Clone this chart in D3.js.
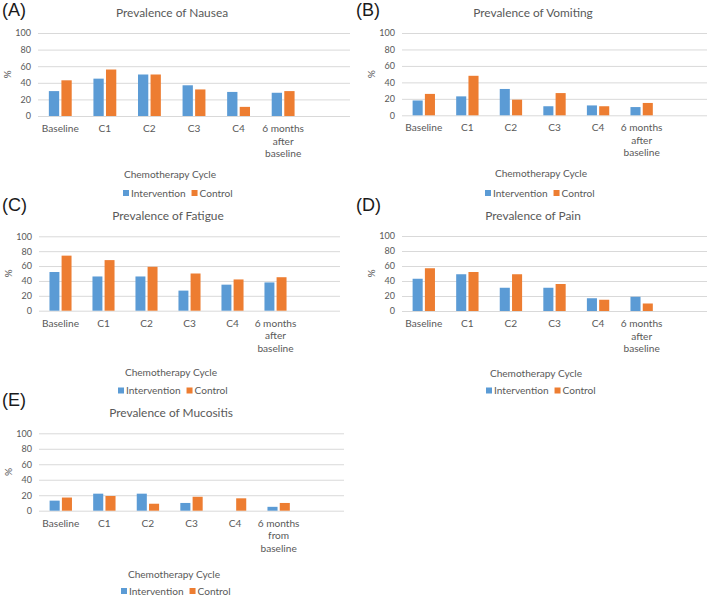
<!DOCTYPE html>
<html>
<head>
<meta charset="utf-8">
<script src="https://cdn.jsdelivr.net/npm/d3@7"></script>
<style>
  body { margin: 0; background: #fff; }
  text { font-family: Lato, "Noto Sans", sans-serif; fill: #595959; }
</style>
</head>
<body>
<div id="container"></div>
<script>
// categories (7th slot is empty in the original chart)
var categories = ['Baseline', 'C1', 'C2', 'C3', 'C4', '6m', ''];
var catLabels = ['Baseline', 'C1', 'C2', 'C3', 'C4', '6 months\nafter\nbaseline', ''];
var catLabelsE = ['Baseline', 'C1', 'C2', 'C3', 'C4', '6 months\nfrom\nbaseline', ''];
var series = ['Intervention', 'Control'];
var yTicks = [0, 20, 40, 60, 80, 100];

var nauseaInt = [30, 45, 50, 37, 29, 28];
var nauseaCtrl = [43, 56, 50, 32, 11, 30];
var vomitInt = [18, 23, 32, 11, 12, 10];
var vomitCtrl = [26, 48, 19, 27, 11, 15];
var fatigueInt = [52, 46, 46, 27, 35, 38];
var fatigueCtrl = [74, 68, 59, 50, 42, 45];
var painInt = [43, 49, 31, 31, 17, 19];
var painCtrl = [57, 52, 49, 36, 15, 10];
var mucoInt = [13, 22, 22, 10, 0, 5];
var mucoCtrl = [17, 19, 9, 18, 16, 10];

var colors = {Intervention: '#5B9BD5', Control: '#ED7D31'};

var svg = d3.select('#container').append('svg')
    .attr('width', 709)
    .attr('height', 596);

// pick font sizes from the text widths in the picture (Calibri is narrower, so nudge up a bit)
function fitSize(str, target) {
  var t = svg.append('text').style('font-size', '10px').text(str);
  var w = t.node().getComputedTextLength();
  t.remove();
  return 10 * target / w;
}
var titleSize = fitSize('Prevalence of Nausea', 105) * 1.07;
var smallSize = fitSize('Chemotherapy Cycle', 84) * 1.1;
var tickSize = fitSize('100', 15) * 1.05;

// panel layouts: plot box + text anchors
var panels = [
  {tag: '(A)', title: 'Prevalence of Nausea', labels: catLabels, a: nauseaInt, b: nauseaCtrl,
   ox: 0, oy: 0, left: 38, right: 350, top: 33, bottom: 116, titleY: 17, titleX: 172, axisY: 178, axisX: 170, legY: 193, legX: 123},
  {tag: '(B)', title: 'Prevalence of Vomiting', labels: catLabels, a: vomitInt, b: vomitCtrl,
   ox: 354, oy: 0, left: 48, right: 353, top: 33, bottom: 115.3, titleY: 17, titleX: 179, axisY: 177, axisX: 187, legY: 193, legX: 131},
  {tag: '(C)', title: 'Prevalence of Fatigue', labels: catLabels, a: fatigueInt, b: fatigueCtrl,
   ox: 0, oy: 195, left: 39, right: 340, top: 41.3, bottom: 115.7, titleY: 25, titleX: 168, axisY: 181, axisX: 171, legY: 195.5, legX: 118},
  {tag: '(D)', title: 'Prevalence of Pain', labels: catLabels, a: painInt, b: painCtrl,
   ox: 354, oy: 195, left: 48, right: 353, top: 41, bottom: 116, titleY: 25, titleX: 179, axisY: 182, axisX: 182, legY: 195.5, legX: 132},
  {tag: '(E)', title: 'Prevalence of Mucositis', labels: catLabelsE, a: mucoInt, b: mucoCtrl,
   ox: 0, oy: 390, left: 39, right: 344, top: 43.3, bottom: 120.7, titleY: 27, titleX: 171, axisY: 188, axisX: 174, legY: 201, legX: 121}
];

panels.forEach(function(p) {
  var g = svg.append('g').attr('transform', 'translate(' + p.ox + ',' + p.oy + ')');

  var x = d3.scaleBand().domain(categories).range([p.left, p.right]).padding(0);
  var bw = x.bandwidth();
  var xSub = d3.scaleBand().domain(series)
      .range([-0.2565 * bw, 0.2565 * bw]).paddingInner(0.18);
  var y = d3.scaleLinear().domain([0, 100]).range([p.bottom, p.top]);

  // panel tag
  g.append('text').attr('x', 2).attr('y', 16)
      .style('font-family', '"Liberation Sans", Arial, sans-serif')
      .style('font-size', '18px').style('fill', '#1a1a1a')
      .text(p.tag);

  // title
  g.append('text').attr('x', p.titleX).attr('y', p.titleY)
      .attr('text-anchor', 'middle').style('font-size', titleSize + 'px')
      .text(p.title);

  // gridlines + y labels
  var yAxis = d3.axisLeft(y).tickValues(yTicks).tickSize(-(p.right - p.left)).tickPadding(7);
  var ya = g.append('g').attr('transform', 'translate(' + p.left + ',0)').call(yAxis);
  ya.select('.domain').remove();
  ya.selectAll('line').attr('stroke', '#D9D9D9');
  ya.selectAll('text').style('font-size', tickSize + 'px').style('fill', '#595959')
      .style('font-family', 'Lato, sans-serif');

  // % label
  g.append('text')
      .attr('transform', 'translate(' + (p.left - 27) + ',' + ((p.top + p.bottom) / 2) + ') rotate(-90)')
      .attr('text-anchor', 'middle').style('font-size', smallSize + 'px')
      .text('%');

  // bars
  var rows = categories.slice(0, 6).map(function(c, i) {
    return {cat: c, vals: [{s: 'Intervention', v: p.a[i]}, {s: 'Control', v: p.b[i]}]};
  });
  var grp = g.selectAll('.cat').data(rows).enter().append('g')
      .attr('transform', function(d) { return 'translate(' + (x(d.cat) + bw / 2) + ',0)'; });
  grp.selectAll('rect').data(function(d) { return d.vals; }).enter().append('rect')
      .attr('x', function(d) { return xSub(d.s); })
      .attr('width', xSub.bandwidth())
      .attr('y', function(d) { return y(d.v); })
      .attr('height', function(d) { return y(0) - y(d.v); })
      .attr('fill', function(d) { return colors[d.s]; });

  // category labels
  var cl = g.selectAll('.cl').data(categories).enter().append('text')
      .attr('text-anchor', 'middle')
      .attr('x', function(d) { return x(d) + bw / 2; })
      .attr('y', p.bottom + 16)
      .style('font-size', smallSize + 'px');
  cl.each(function(d, i) {
    var lines = p.labels[i].split('\n');
    var t = d3.select(this);
    lines.forEach(function(l, k) {
      t.append('tspan').attr('x', x(d) + bw / 2).attr('dy', k === 0 ? 0 : 12.5).text(l);
    });
  });

  // axis title
  g.append('text').attr('x', p.axisX).attr('y', p.axisY)
      .attr('text-anchor', 'middle').style('font-size', smallSize + 'px')
      .text('Chemotherapy Cycle');

  // legend
  var lx = p.legX;
  series.forEach(function(s) {
    g.append('rect').attr('x', lx).attr('y', p.legY - 3).attr('width', 6).attr('height', 6)
        .attr('fill', colors[s]);
    var t = g.append('text').attr('x', lx + 8).attr('y', p.legY)
        .attr('dy', '0.35em')
        .style('font-size', smallSize + 'px').text(s);
    lx += 8 + t.node().getComputedTextLength() + 6;
  });
});
</script>
</body>
</html>
